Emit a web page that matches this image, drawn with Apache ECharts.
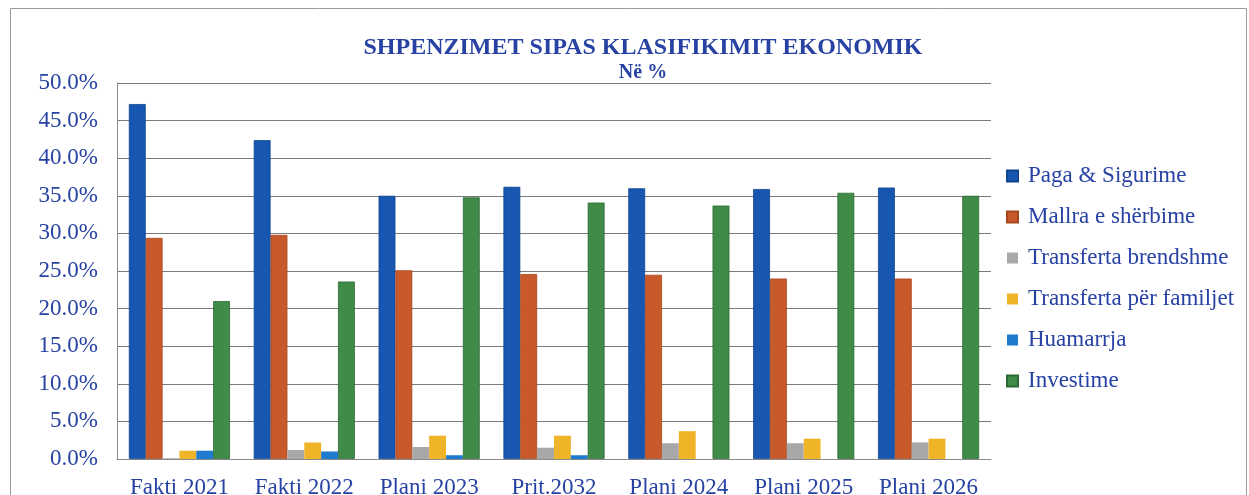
<!DOCTYPE html>
<html>
<head>
<meta charset="utf-8">
<script src="https://cdn.jsdelivr.net/npm/echarts@6/dist/echarts.min.js"></script>
<style>html,body{margin:0;padding:0;background:#fff}#c{width:1249px;height:495px}</style>
</head>
<body>
<div id="c"></div>
<script>
const categories = ['Fakti 2021','Fakti 2022','Plani 2023','Prit.2032','Plani 2024','Plani 2025','Plani 2026'];
const seriesNames = ['Paga & Sigurime','Mallra e shërbime','Transferta brendshme','Transferta për familjet','Huamarrja','Investime'];
const paga = [47.2, 42.4, 35.0, 36.2, 36.0, 35.9, 36.1];
const mallra = [29.4, 29.8, 25.1, 24.6, 24.5, 24.0, 24.0];
const brendshme = [0.1, 1.2, 1.6, 1.5, 2.1, 2.1, 2.2];
const familjet = [1.1, 2.2, 3.1, 3.1, 3.7, 2.7, 2.7];
const huamarrja = [1.1, 1.0, 0.5, 0.5, 0, 0, 0];
const investime = [21.0, 23.6, 34.8, 34.1, 33.7, 35.4, 35.0];
const yTicks = {min: 0, max: 50, interval: 5};

const values = [paga, mallra, brendshme, familjet, huamarrja, investime];
const colors = ['#1757b2','#c8592a','#a8a8a8','#f0b428','#1f7bd0','#3f8b47'];
const borders = ['#0f4490','#a8461e','#8e8e8e','#d49a18','#1765ad','#2b6a33'];
const borderW = [0.8, 0.8, 0, 0, 0, 0.8];
const textBlue = '#2742a3';
const serif = '"Liberation Serif","DejaVu Serif",serif';

const chart = echarts.init(document.getElementById('c'), null, {renderer:'canvas'});
chart.setOption({
  backgroundColor: '#fff',
  animation: false,
  graphic: [{
    type: 'rect', shape: {x: 10.5, y: 8.5, width: 1236, height: 520},
    style: {fill: 'none', stroke: '#9a9a9a', lineWidth: 1}, silent: true, z: -1
  }],
  title: {
    text: 'SHPENZIMET SIPAS KLASIFIKIMIT EKONOMIK',
    subtext: 'Në %',
    left: 638, top: 31, textAlign: 'center', itemGap: 3,
    textStyle: {fontFamily: serif, fontWeight: 'bold', fontSize: 24, color: textBlue},
    subtextStyle: {fontFamily: serif, fontWeight: 'bold', fontSize: 20, color: textBlue}
  },
  legend: {
    orient: 'vertical', left: 1001, top: 159,
    itemWidth: 11, itemHeight: 11, itemGap: 17,
    icon: 'rect',
    textStyle: {fontFamily: serif, fontSize: 23, color: textBlue, lineHeight: 24, padding: [0,0,0,5]},
    data: seriesNames
  },
  grid: {left: 117, right: 258, top: 83, bottom: 36, containLabel: false, outerBoundsMode: 'none'},
  xAxis: {
    type: 'category', data: categories,
    axisLine: {lineStyle: {color: '#8a8a8a', width: 1}},
    axisTick: {show: false},
    axisLabel: {fontFamily: serif, fontSize: 23, color: textBlue, margin: 17, interval: 0, hideOverlap: false}
  },
  yAxis: {
    type: 'value', min: yTicks.min, max: yTicks.max, interval: yTicks.interval,
    axisLine: {show: true, lineStyle: {color: '#8a8a8a', width: 1}},
    axisTick: {show: false},
    splitLine: {lineStyle: {color: '#7a7a7a', width: 1}},
    axisLabel: {fontFamily: serif, fontSize: 23, color: textBlue, margin: 19,
      formatter: v => v.toFixed(1) + '%'}
  },
  series: seriesNames.map((n, i) => ({
    name: n, type: 'bar', data: values[i],
    barGap: '0%', barCategoryGap: '19%',
    itemStyle: {color: colors[i], borderColor: borders[i], borderWidth: borderW[i]}
  }))
});
</script>
</body>
</html>
